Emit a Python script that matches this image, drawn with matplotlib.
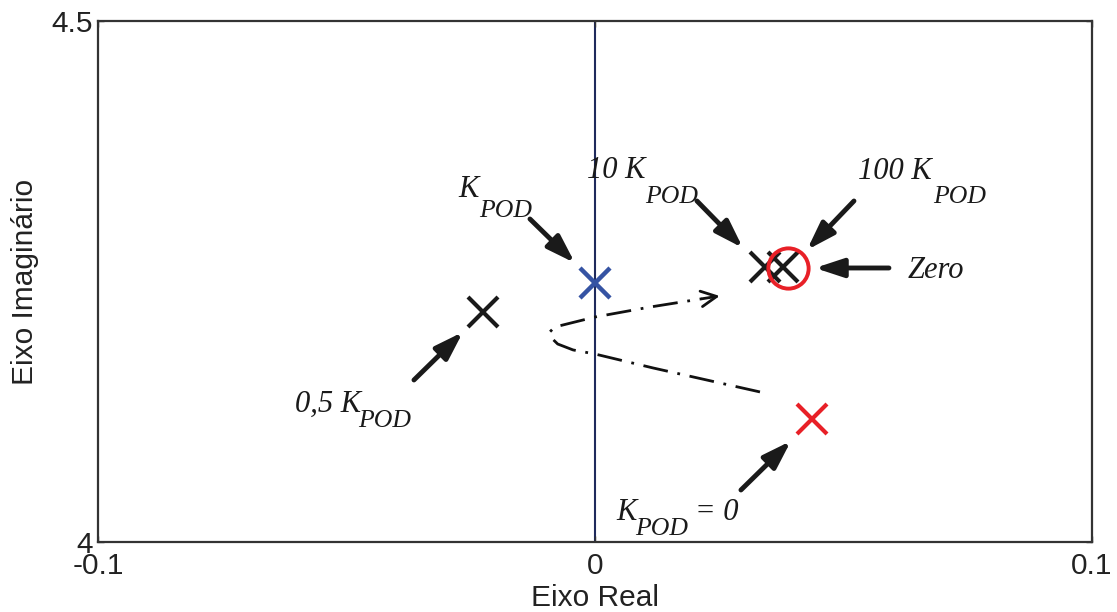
import matplotlib
matplotlib.use('Agg')
import matplotlib.pyplot as plt

# pole / zero positions
pole_05_x, pole_05_y = -0.0225, 4.221
pole_1_x, pole_1_y = 0.0, 4.249
pole_10_x, pole_10_y = 0.0342, 4.264
pole_100_x, pole_100_y = 0.0378, 4.264
zero_x, zero_y = 0.0388, 4.263
pole_0_x, pole_0_y = 0.0437, 4.118

# locus path (dash-dot), from K=0 towards large K
locus_x = [0.0332, 0.0117, 0.0000, -0.0044, -0.0075, -0.0089, -0.0091, -0.0081, 0.0000, 0.0111, 0.0215]
locus_y = [4.1440, 4.1670, 4.1804, 4.1843, 4.1900, 4.1965, 4.2015, 4.2063, 4.2159, 4.2255, 4.2334]
locus_tip = (0.0251, 4.2361)

xticks = [-0.1, 0, 0.1]
xtick_labels = ['-0.1', '0', '0.1']
yticks = [4, 4.5]
ytick_labels = ['4', '4.5']

fig = plt.figure(figsize=(11.17, 6.12), dpi=100)
ax = fig.add_axes([0.0877, 0.1144, 0.8899, 0.8513])
ax.set_xlim(-0.1, 0.1)
ax.set_ylim(4, 4.5)

sans = 'Liberation Sans'
serif = 'Liberation Serif'

for s in ax.spines.values():
    s.set_linewidth(1.6)
    s.set_color('#333333')
ax.tick_params(direction='in', length=4, width=1, top=True, right=True,
               colors='#333333', labelcolor='#222222', labelsize=21.5)
ax.tick_params(axis='x', pad=7)
ax.tick_params(axis='y', pad=4)
ax.set_xticks(xticks)
ax.set_xticklabels(xtick_labels, family=sans)
ax.set_yticks(yticks)
ax.set_yticklabels(ytick_labels, family=sans)
ax.set_xlabel('Eixo Real', family=sans, fontsize=21.5, color='#222222', labelpad=3)
ax.set_ylabel('Eixo Imaginário', family=sans, fontsize=21.5, color='#222222', labelpad=8.5)

# imaginary axis line
ax.axvline(0, color='#1f2a5c', lw=1.5, zorder=1)

# locus
ax.plot(locus_x, locus_y, color='#111111', lw=2, dashes=[9, 3.5, 1, 3.5], zorder=2)
ax.annotate('', xy=locus_tip, xytext=(locus_x[-1], locus_y[-1]),
            arrowprops=dict(arrowstyle='->', lw=2, color='#111111',
                            mutation_scale=28, shrinkA=0, shrinkB=0))

# markers
ax.plot(pole_05_x, pole_05_y, 'x', color='#1a1a1a', ms=21, mew=3)
ax.plot(pole_1_x, pole_1_y, 'x', color='#3553a3', ms=22, mew=3.2, zorder=3)
ax.plot(pole_10_x, pole_10_y, 'x', color='#1a1a1a', ms=21, mew=3)
ax.plot(pole_100_x, pole_100_y, 'x', color='#1a1a1a', ms=21, mew=3)
ax.plot(zero_x, zero_y, 'o', mfc='none', mec='#e82027', ms=29, mew=2.8)
ax.plot(pole_0_x, pole_0_y, 'x', color='#e82027', ms=21, mew=3)

# arrows (tail, tip)
arrows = [((-0.01308, 4.30998), (-0.00403, 4.26776)),
          ((0.02052, 4.32726), (0.02977, 4.28215)),
          ((0.05211, 4.32726), (0.04265, 4.28023)),
          ((0.05915, 4.26296), (0.04426, 4.26296)),
          ((-0.03642, 4.15547), (-0.02656, 4.20153)),
          ((0.02937, 4.04990), (0.03943, 4.09693))]
for tail, tip in arrows:
    ax.annotate('', xy=tip, xytext=tail,
                arrowprops=dict(arrowstyle='-|>,head_length=0.85,head_width=0.28',
                                lw=3.5, color='#1a1a1a', mutation_scale=20,
                                shrinkA=0, shrinkB=0))

# labels: main text, then subscript placed lower
labels = [('K', -0.02757, 4.33110), ('10 K', -0.00161, 4.34933),
          ('100 K', 0.05292, 4.34837), ('Zero', 0.06298, 4.25336),
          ('0,5 K', -0.06036, 4.12476), ('K', 0.00423, 4.02111),
          ('= 0', 0.02012, 4.02111)]
subs = [('POD', -0.02334, 4.31190), ('POD', 0.01006, 4.32533),
        ('POD', 0.06801, 4.32533), ('POD', -0.04769, 4.11036),
        ('POD', 0.00805, 4.00672)]
for txt, lx, ly in labels:
    ax.text(lx, ly, txt, family=serif, style='italic', fontsize=22,
            color='#1a1a1a', ha='left', va='baseline')
for txt, lx, ly in subs:
    ax.text(lx, ly, txt, family=serif, style='italic', fontsize=18.5,
            color='#1a1a1a', ha='left', va='baseline')

fig.savefig('out.png', dpi=100)
